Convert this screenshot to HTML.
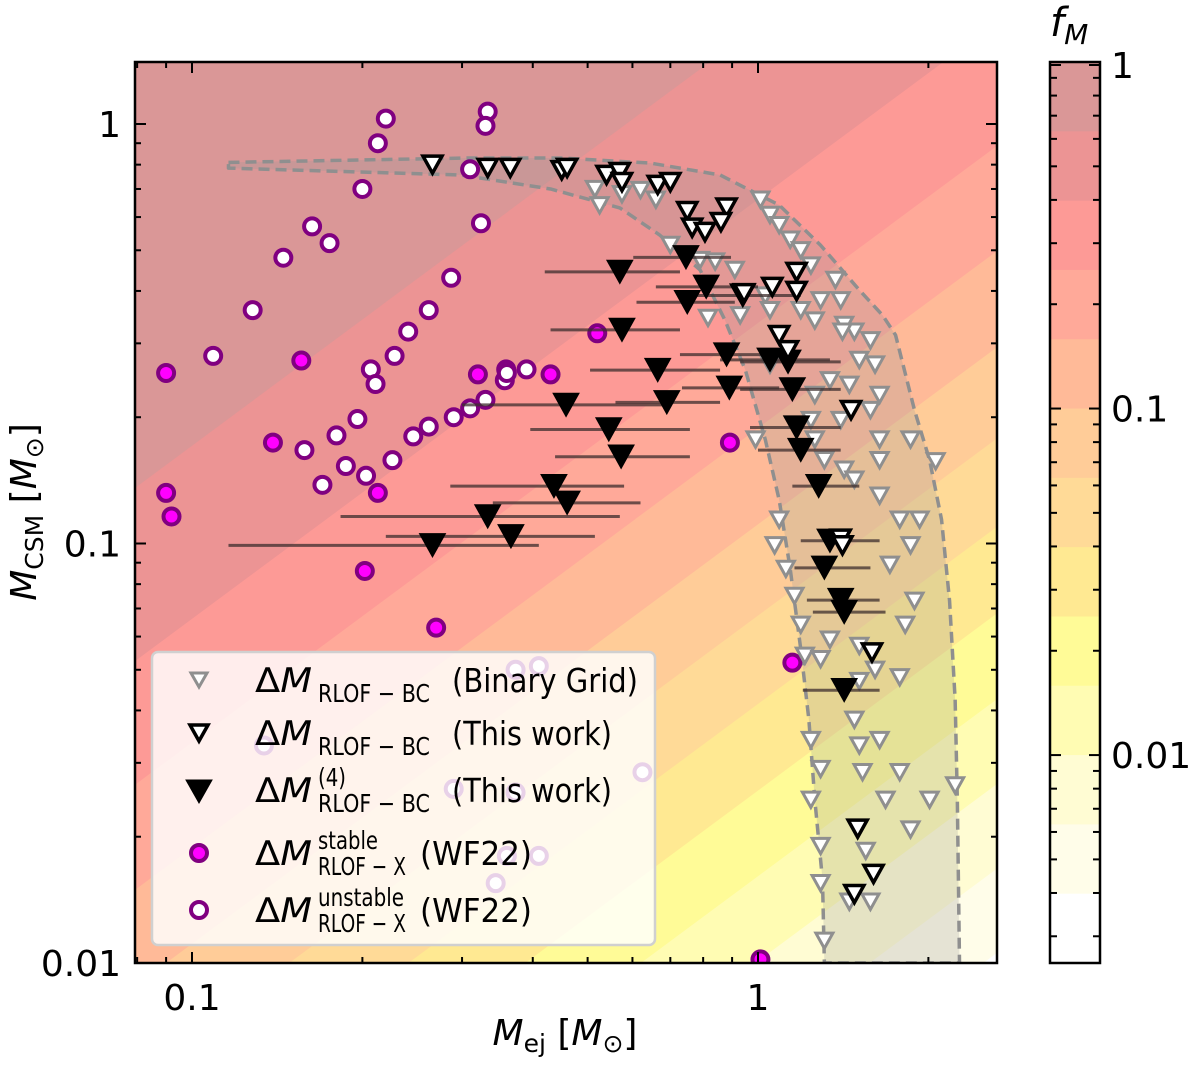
<!DOCTYPE html>
<html><head><meta charset="utf-8">
<style>
html,body{margin:0;padding:0;background:#fff;overflow:hidden;width:1200px;height:1065px;}
svg{display:block;position:absolute;left:0;top:0;font-family:"DejaVu Sans","Liberation Sans",sans-serif;}
</style></head>
<body>
<svg id="chart" width="1200" height="1065" viewBox="0 0 1200 1065" xmlns="http://www.w3.org/2000/svg">
<defs><clipPath id="plotclip"><rect x="135" y="62" width="862" height="901"/></clipPath></defs>
<g id="bg" clip-path="url(#plotclip)"></g>
<g id="marks" clip-path="url(#plotclip)"></g>
<g id="axes"></g>
<g id="legend"></g>
<g id="cbar"></g>
</svg>
<script>
// ---- data ----
const bandColors = ['#da9797','#ec9494','#fd9a96','#ffa999','#ffba98','#ffcc98','#ffda97','#ffe992','#fffb97','#fffcb3','#fffcd3','#fffde9','#ffffff'];
const bandStep = 0.2;
const xTickVals = [0.1, 1];
const xTickLabels = ['0.1', '1'];
const yTickVals = [0.01, 0.1, 1];
const yTickLabels = ['0.01', '0.1', '1'];
const cbTickVals = [1, 0.1, 0.01];
const cbTickLabels = ['1', '0.1', '0.01'];

const envOuterX = [0.116,0.31,0.447,0.645,0.857,1.09,1.29,1.51,1.66,1.75,1.89,2.01,2.11,2.18,2.23,2.25,2.27];
const envOuterY = [0.81,0.83,0.83,0.807,0.756,0.641,0.514,0.402,0.35,0.314,0.208,0.158,0.114,0.073,0.0424,0.0245,0.01];
const envInnerX = [0.116,0.298,0.43,0.57,0.67,0.79,0.874,0.95,1.03,1.09,1.14,1.19,1.23,1.26,1.30,1.31];
const envInnerY = [0.785,0.756,0.70,0.631,0.544,0.449,0.341,0.259,0.177,0.127,0.087,0.056,0.038,0.0245,0.0158,0.01];

const unstableX = [0.22,0.333,0.33,0.213,0.2,0.31,0.324,0.163,0.175,0.145,0.128,0.287,0.109,0.262,0.241,0.228,0.207,0.211,0.359,0.357,0.33,0.31,0.29,0.262,0.246,0.226,0.196,0.18,0.158,0.187,0.203,0.17,0.39,0.36,0.41,0.373,0.134,0.29,0.373,0.625,0.36,0.41,0.344];
const unstableY = [1.03,1.07,0.99,0.90,0.70,0.78,0.58,0.57,0.52,0.48,0.36,0.43,0.28,0.36,0.32,0.28,0.26,0.24,0.26,0.245,0.22,0.21,0.20,0.19,0.18,0.158,0.198,0.181,0.167,0.153,0.145,0.138,0.26,0.255,0.051,0.05,0.033,0.026,0.0255,0.0285,0.018,0.018,0.0155];
const stableX = [0.090,0.156,0.32,0.43,0.52,0.139,0.892,0.090,0.092,0.213,0.202,0.27,1.15,1.01];
const stableY = [0.255,0.273,0.253,0.253,0.317,0.174,0.174,0.132,0.116,0.132,0.086,0.063,0.052,0.0102];

const gridX = [0.525,0.515,0.62,0.66,0.70,0.79,0.91,1.01,1.05,1.09,1.14,1.19,1.24,1.03,1.05,1.19,1.26,1.29,1.37,1.40,1.42,1.48,1.51,1.61,1.64,1.58,1.45,1.34,1.40,1.24,1.26,1.31,1.42,1.48,1.64,1.64,1.78,1.93,2.06,1.86,1.71,1.89,1.82,1.51,1.61,1.78,1.09,1.07,1.12,1.16,1.19,1.21,1.29,1.34,1.51,1.24,1.29,1.24,1.48,1.51,1.64,1.53,1.68,1.78,1.86,2.01,2.23,1.29,1.29,1.55,1.45,1.31,1.58,0.99,1.05,0.93,0.84,0.816,1.26,1.41,0.575,1.86,1.58,1.64];
const gridY = [0.64,0.70,0.696,0.66,0.515,0.474,0.449,0.66,0.607,0.574,0.53,0.50,0.46,0.39,0.36,0.36,0.34,0.38,0.425,0.38,0.332,0.32,0.274,0.267,0.226,0.208,0.239,0.245,0.197,0.197,0.177,0.158,0.15,0.142,0.177,0.13,0.114,0.114,0.157,0.099,0.089,0.073,0.064,0.057,0.05,0.048,0.114,0.099,0.087,0.075,0.064,0.054,0.053,0.059,0.047,0.034,0.029,0.0245,0.038,0.033,0.034,0.0285,0.0245,0.0285,0.0208,0.0245,0.0265,0.019,0.0155,0.0185,0.014,0.0113,0.014,0.177,0.267,0.35,0.47,0.345,0.226,0.32,0.68,0.177,0.305,0.158];

const openX = [0.266,0.333,0.365,0.45,0.46,0.54,0.57,0.575,0.665,0.70,0.75,0.88,0.86,0.765,0.806,1.17,1.06,1.17,0.945,1.09,1.13,1.46,1.40,1.41,1.59,1.50,1.60,1.48];
const openY = [0.80,0.786,0.786,0.776,0.786,0.756,0.768,0.727,0.716,0.727,0.62,0.632,0.584,0.566,0.553,0.444,0.409,0.40,0.395,0.314,0.289,0.208,0.1027,0.099,0.055,0.0209,0.0163,0.0146];

const fillX = [0.746,0.57,0.81,0.75,0.94,0.575,0.88,1.05,1.13,0.665,0.89,1.15,0.458,0.69,0.545,1.17,0.573,1.19,1.28,0.436,0.46,0.333,0.366,0.266,1.34,1.31,1.40,1.42,1.42];
const fillY = [0.481,0.444,0.409,0.376,0.39,0.323,0.282,0.274,0.271,0.259,0.235,0.233,0.214,0.217,0.187,0.189,0.161,0.167,0.137,0.137,0.125,0.116,0.104,0.099,0.1015,0.0875,0.0733,0.0686,0.0447];
const fillXlo = [0.602,0.42,0.66,0.61,0.75,0.43,0.728,0.857,0.93,0.505,0.734,0.93,0.30,0.56,0.396,0.968,0.438,1.0,1.15,0.286,0.34,0.183,0.22,0.116,1.19,1.16,1.22,1.25,1.20];
const fillXhi = [0.896,0.728,1.0,0.91,1.19,0.728,1.14,1.34,1.40,0.857,1.09,1.40,0.70,0.857,0.758,1.40,0.758,1.40,1.51,0.58,0.62,0.57,0.515,0.41,1.64,1.58,1.64,1.68,1.64];

// ---- axes functions ----
const PX0=135, PX1=997, PY0=62, PY1=963;
function X(v){ return 758 + Math.log10(v)*566; }
function Y(v){ return 124 - Math.log10(v)*419.5; }
function Xinv(px){ return Math.pow(10,(px-758)/566); }
const NS='http://www.w3.org/2000/svg';
function mk(tag, attrs, parent){
  const e=document.createElementNS(NS,tag);
  for(const k in attrs) e.setAttribute(k, attrs[k]);
  parent.appendChild(e); return e;
}
const bg=document.getElementById('bg'), marks=document.getElementById('marks'), axes=document.getElementById('axes');

let base=mk('rect',{x:PX0,y:PY0,width:PX1-PX0,height:PY1-PY0,fill:bandColors[12]},bg);


// region f >= L  <=>  Mcsm >= r*Mej, clipped to the plot rect (Sutherland-Hodgman, one half-plane)
for(let k=12;k>=1;k--){
  const L=Math.pow(10,-bandStep*k), r=L/(1-L);
  const lineY=px=>Y(r*Xinv(px));
  const inside=p=>p[1]<=lineY(p[0]);
  const rect=[[PX0,PY0],[PX1,PY0],[PX1,PY1],[PX0,PY1]];
  const out=[];
  for(let i=0;i<4;i++){
    const a=rect[i], b=rect[(i+1)%4];
    const ia=inside(a), ib=inside(b);
    if(ia) out.push(a);
    if(ia!==ib){
      // bisection for intersection
      let lo=0,hi=1;
      for(let it=0;it<40;it++){
        const m=(lo+hi)/2, p=[a[0]+(b[0]-a[0])*m, a[1]+(b[1]-a[1])*m];
        if(inside(p)===ia) lo=m; else hi=m;
      }
      out.push([a[0]+(b[0]-a[0])*lo, a[1]+(b[1]-a[1])*lo]);
    }
  }
  if(out.length<3) continue;
  const p=mk('polygon',{points:out.map(q=>q[0].toFixed(1)+','+q[1].toFixed(1)).join(' '),fill:bandColors[k-1]},bg);
  
  
}

{
  const pts=[];
  for(let i=0;i<envOuterX.length;i++) pts.push([X(envOuterX[i]),Y(envOuterY[i])]);
  for(let i=envInnerX.length-1;i>=0;i--) pts.push([X(envInnerX[i]),Y(envInnerY[i])]);
  const env=mk('polygon',{points:pts.map(q=>q.join(',')).join(' '),fill:'rgba(150,150,150,0.25)',stroke:'#8f8f8f','stroke-width':3.5,'stroke-dasharray':'11,6','stroke-linejoin':'round'},marks);
  
  
}

function circle(x,y,filled,parent){
  return mk('circle',{cx:x,cy:y,r:8,fill:filled?'#ff00ff':'#ffffff',stroke:'#800080','stroke-width':4},parent);
}
function tri(x,y,w,stroke,fill,sw,parent){
  const h=w*0.9;
  return mk('polygon',{points:`${x-w/2},${y-h/2} ${x+w/2},${y-h/2} ${x},${y+h/2}`,fill:fill,stroke:stroke,'stroke-width':sw,'stroke-linejoin':'miter'},parent);
}

for(let i=0;i<unstableX.length;i++){
  const c=circle(X(unstableX[i]),Y(unstableY[i]),false,marks);
  
  
}
for(let i=0;i<stableX.length;i++){
  const c=circle(X(stableX[i]),Y(stableY[i]),true,marks);
  
  
}
for(let i=0;i<gridX.length;i++){
  const t=tri(X(gridX[i]),Y(gridY[i]),17,'#8f8f8f','#ffffff',3,marks);
  
  
}
for(let i=0;i<fillX.length;i++){
  const l=mk('line',{x1:X(fillXlo[i]),x2:X(fillXhi[i]),y1:Y(fillY[i]),y2:Y(fillY[i]),stroke:'rgba(60,45,45,0.75)','stroke-width':3},marks);
  
  
}
for(let i=0;i<fillX.length;i++){
  const t=tri(X(fillX[i]),Y(fillY[i]),26,'#000','#000',1,marks);
  
  
}
for(let i=0;i<openX.length;i++){
  const t=tri(X(openX[i]),Y(openY[i]),19,'#000','#ffffff',3.5,marks);
  
  
}

const fr=mk('rect',{x:PX0,y:PY0,width:PX1-PX0,height:PY1-PY0,fill:'none',stroke:'#000','stroke-width':2.5},axes);


function tickX(v,len){
  const x=X(v); if(x<PX0||x>PX1) return;
  mk('line',{x1:x,x2:x,y1:PY1,y2:PY1-len,stroke:'#000','stroke-width':2},axes);
  mk('line',{x1:x,x2:x,y1:PY0,y2:PY0+len,stroke:'#000','stroke-width':2},axes);
}
function tickY(v,len){
  const y=Y(v); if(y<PY0||y>PY1) return;
  mk('line',{x1:PX0,x2:PX0+len,y1:y,y2:y,stroke:'#000','stroke-width':2},axes);
  mk('line',{x1:PX1,x2:PX1-len,y1:y,y2:y,stroke:'#000','stroke-width':2},axes);
}
for(const d of [0.01,0.1,1]) for(let m=2;m<=9;m++){ tickX(d*m,6); }
for(const d of [0.001,0.01,0.1,1]) for(let m=2;m<=9;m++){ tickY(d*m,6); }
xTickVals.forEach((v,i)=>{
  tickX(v,11);
  const t=mk('text',{x:X(v),y:1010,'text-anchor':'middle','font-size':36,fill:'#000'},axes);
  t.textContent=xTickLabels[i];
  
  
});
yTickVals.forEach((v,i)=>{
  tickY(v,11);
  const t=mk('text',{x:121,y:Y(v)+13,'text-anchor':'end','font-size':36,fill:'#000'},axes);
  t.textContent=yTickLabels[i];
  
  
});

(function(){
  const xt=document.createElementNS(NS,'text');
  xt.setAttribute('x',565); xt.setAttribute('y',1045); xt.setAttribute('text-anchor','middle'); xt.setAttribute('font-size',36);
  xt.innerHTML='<tspan font-style="italic">M</tspan><tspan font-size="25" dy="7">ej</tspan><tspan dy="-7"> [</tspan><tspan font-style="italic">M</tspan><tspan font-size="25" dy="7">⊙</tspan><tspan dy="-7">]</tspan>';
  
  
  axes.appendChild(xt);
  const yt=document.createElementNS(NS,'text');
  yt.setAttribute('transform','translate(36,512) rotate(-90)'); yt.setAttribute('text-anchor','middle'); yt.setAttribute('font-size',36);
  yt.innerHTML='<tspan font-style="italic">M</tspan><tspan font-size="25" dy="7">CSM</tspan><tspan dy="-7"> [</tspan><tspan font-style="italic">M</tspan><tspan font-size="25" dy="7">⊙</tspan><tspan dy="-7">]</tspan>';
  
  
  axes.appendChild(yt);

  const leg=document.getElementById('legend');
  const box=document.createElementNS(NS,'rect');
  box.setAttribute('x',152); box.setAttribute('y',652); box.setAttribute('width',503); box.setAttribute('height',293);
  box.setAttribute('rx',6); box.setAttribute('fill','rgba(255,255,255,0.82)'); box.setAttribute('stroke','#d0d0d0'); box.setAttribute('stroke-width',2.5);
  
  
  leg.appendChild(box);
  const entries=[
    {y:680,rx:452,rw:186,sw:112,m:'<polygon points="191,673 207,673 199,687" fill="#fff" stroke="#8f8f8f" stroke-width="3"/>',t:'RLOF − BC||(Binary Grid)',n:'legend-entry-binary-grid'},
    {y:733,rx:452,rw:160,sw:112,m:'<polygon points="190,725 208,725 199,741" fill="#fff" stroke="#000" stroke-width="3.5"/>',t:'RLOF − BC||(This work)',n:'legend-entry-this-work'},
    {y:790,rx:452,rw:160,sw:112,m:'<polygon points="186,780 212,780 199,803" fill="#000" stroke="#000"/>',t:'RLOF − BC|(4)|(This work)',n:'legend-entry-this-work-4'},
    {y:853,rx:420,rw:112,sw:88,m:'<circle cx="199" cy="853" r="8" fill="#ff00ff" stroke="#800080" stroke-width="4"/>',t:'RLOF − X|stable|(WF22)',n:'legend-entry-wf22-stable'},
    {y:910,rx:420,rw:112,sw:88,m:'<circle cx="199" cy="910" r="8" fill="#fff" stroke="#800080" stroke-width="4"/>',t:'RLOF − X|unstable|(WF22)',n:'legend-entry-wf22-unstable'}
  ];
  const supW={'(4)':28,'stable':60,'unstable':86};
  entries.forEach(e=>{
    const g=document.createElementNS(NS,'g');
    
    
    const [sub,sup,rest]=e.t.split('|');
    const x0=255;
    g.innerHTML=e.m+
      `<text x="${x0}" y="${e.y+12}" font-size="34" textLength="57" lengthAdjust="spacingAndGlyphs">Δ<tspan font-style="italic">M</tspan></text>`+
      `<text x="${x0+63}" y="${e.y+22}" font-size="25" textLength="${e.sw}" lengthAdjust="spacingAndGlyphs">${sub}</text>`+
      (sup?`<text x="${x0+63}" y="${e.y-4}" font-size="25" textLength="${supW[sup]}" lengthAdjust="spacingAndGlyphs">${sup}</text>`:'')+
      `<text x="${e.rx}" y="${e.y+12}" font-size="33" textLength="${e.rw}" lengthAdjust="spacingAndGlyphs">${rest}</text>`;
    leg.appendChild(g);
  });
})();

(function(){
  const cb=document.getElementById('cbar');
  const top=62, bot=963, n=bandColors.length, h=(bot-top)/n;
  for(let k=0;k<n;k++){
    const r=document.createElementNS(NS,'rect');
    r.setAttribute('x',1050); r.setAttribute('y',top+k*h); r.setAttribute('width',50); r.setAttribute('height',Math.min(h+0.5,bot-(top+k*h)));
    r.setAttribute('fill',bandColors[k]);
    
    
    cb.appendChild(r);
  }
  const CY=v=>top - Math.log10(v)/bandStep*h;
  function tk(y,len){
    for(const [x1,x2] of [[1050,1050+len],[1100,1100-len]]){
      const l=document.createElementNS(NS,'line');
      l.setAttribute('x1',x1); l.setAttribute('x2',x2); l.setAttribute('y1',y); l.setAttribute('y2',y);
      l.setAttribute('stroke','#000'); l.setAttribute('stroke-width',2);
      cb.appendChild(l);
    }
  }
  for(const d of [0.001,0.01,0.1]) for(let m=2;m<=9;m++){ const y=CY(d*m); if(y>top&&y<bot) tk(y,7); }
  cbTickVals.forEach((v,i)=>{
    const y=Math.max(CY(v),top+3); tk(y,11);
    const t=document.createElementNS(NS,'text');
    t.setAttribute('x',1111); t.setAttribute('y',y+13); t.setAttribute('font-size',36);
    t.textContent=cbTickLabels[i];
    
    
    cb.appendChild(t);
  });
  const fr=document.createElementNS(NS,'rect');
  fr.setAttribute('x',1050); fr.setAttribute('y',top); fr.setAttribute('width',50); fr.setAttribute('height',bot-top);
  fr.setAttribute('fill','none'); fr.setAttribute('stroke','#000'); fr.setAttribute('stroke-width',2.5);
  
  
  cb.appendChild(fr);
  const tt=document.createElementNS(NS,'text');
  tt.setAttribute('x',1050); tt.setAttribute('y',36); tt.setAttribute('font-size',40);
  tt.innerHTML='<tspan font-style="italic">f</tspan><tspan font-style="italic" font-size="28" dy="8">M</tspan>';
  
  
  cb.appendChild(tt);
})();
</script>
</body></html>
